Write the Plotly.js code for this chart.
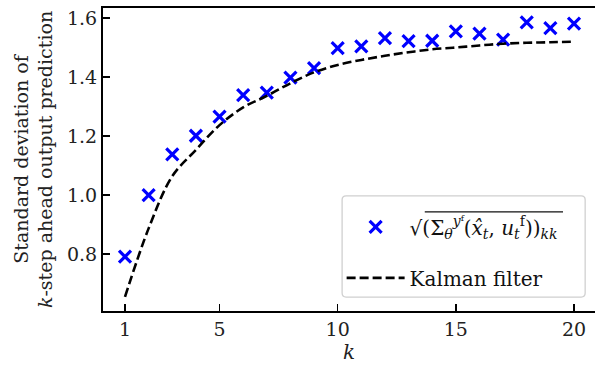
<!DOCTYPE html>
<html>
<head>
<meta charset="utf-8">
<script src="https://cdn.plot.ly/plotly-3.0.1.min.js"></script>
<style>html,body{margin:0;padding:0;background:#fff;}#chart{width:595px;height:368px;}</style>
</head>
<body>
<div id="chart"></div>
<script>
const kSteps = [1,2,3,4,5,6,7,8,9,10,11,12,13,14,15,16,17,18,19,20];
const sigmaEstimate = [0.791,1.000,1.138,1.201,1.266,1.339,1.347,1.398,1.430,1.498,1.504,1.532,1.522,1.523,1.555,1.547,1.527,1.585,1.566,1.581];
const kalmanStd = [0.655,0.887,1.064,1.153,1.237,1.297,1.336,1.379,1.416,1.441,1.458,1.472,1.484,1.494,1.500,1.507,1.513,1.516,1.518,1.520];
const xTicks = [1,5,10,15,20];
const yTicks = [0.8,1.0,1.2,1.4,1.6];
const yTickText = ['0.8','1.0','1.2','1.4','1.6'];
const legendEst = "√(Σ<sub><i>θ</i></sub><sup><i>y</i>ᶠ</sup>(<i>x̂<sub>t</sub></i>, <i>u<sub>t</sub></i><sup>f</sup>))<sub><i>kk</i></sub>";
const legendKal = "Kalman filter";

const font = "DejaVu Serif, Liberation Serif, serif";

function roundedBox(x0, y0, x1, y1, rx, ry) {
  return `M ${x0+rx},${y0} L ${x1-rx},${y0} Q ${x1},${y0} ${x1},${y0+ry} L ${x1},${y1-ry} Q ${x1},${y1} ${x1-rx},${y1} ` +
         `L ${x0+rx},${y1} Q ${x0},${y1} ${x0},${y1-ry} L ${x0},${y0+ry} Q ${x0},${y0} ${x0+rx},${y0} Z`;
}

const traces = [
  {x: kSteps, y: sigmaEstimate, type: 'scatter', mode: 'markers', name: legendEst, legendgroup: 'a',
   marker: {symbol: 'x-thin', size: 12, color: '#0000ff', line: {color: '#0000ff', width: 3.2}}},
  {x: kSteps, y: kalmanStd, type: 'scatter', mode: 'lines', name: legendKal, legendgroup: 'b',
   line: {color: '#000000', width: 2.6, dash: '9px,4px', shape: 'spline'}}
];

const layout = {
  width: 595, height: 368,
  margin: {l: 103, r: 0, t: 8, b: 57},
  paper_bgcolor: '#fff', plot_bgcolor: '#fff',
  font: {family: font, size: 19, color: '#222'},
  showlegend: true,
  legend: {x: 0.485, y: 0.045, xanchor: 'left', yanchor: 'bottom',
    bgcolor: 'rgba(0,0,0,0)', borderwidth: 0,
    font: {family: font, size: 20, color: '#111'}, tracegroupgap: 22, itemwidth: 58},
  shapes: [
    {type: 'path', xref: 'paper', yref: 'paper', layer: 'above',
     path: roundedBox(0.486, 0.046, 0.980, 0.380, 0.0081, 0.0132),
     fillcolor: 'rgba(255,255,255,0.85)', line: {color: '#d0d0d0', width: 1.3}},
    {type: 'line', xref: 'paper', yref: 'paper', layer: 'above', x0: 0.654, x1: 0.935, y0: 0.327, y1: 0.327,
     line: {color: '#111', width: 1.2}}
  ],
  xaxis: {range: [0.069, 20.889], tickvals: xTicks, ticktext: xTicks.map(String),
    ticks: 'inside', ticklen: 7, tickwidth: 1.5, tickcolor: '#000',
    showline: true, linecolor: '#000', linewidth: 2, mirror: true,
    showgrid: false, zeroline: false,
    tickfont: {family: font, size: 19, color: '#222'},
    title: {text: '<i>k</i>', font: {family: font, size: 20, color: '#222'}, standoff: 6}},
  yaxis: {range: [0.607, 1.634], tickvals: yTicks, ticktext: yTickText,
    ticks: 'inside', ticklen: 7, tickwidth: 1.5, tickcolor: '#000',
    showline: true, linecolor: '#000', linewidth: 2, mirror: false,
    showgrid: false, zeroline: false,
    tickfont: {family: font, size: 19, color: '#222'},
    title: {text: 'Standard deviation of<br><i>k</i>-step ahead output prediction', font: {family: font, size: 19, color: '#222'}, standoff: 9}}
};

Plotly.newPlot('chart', traces, layout, {displayModeBar: false, staticPlot: true});
</script>
</body>
</html>
